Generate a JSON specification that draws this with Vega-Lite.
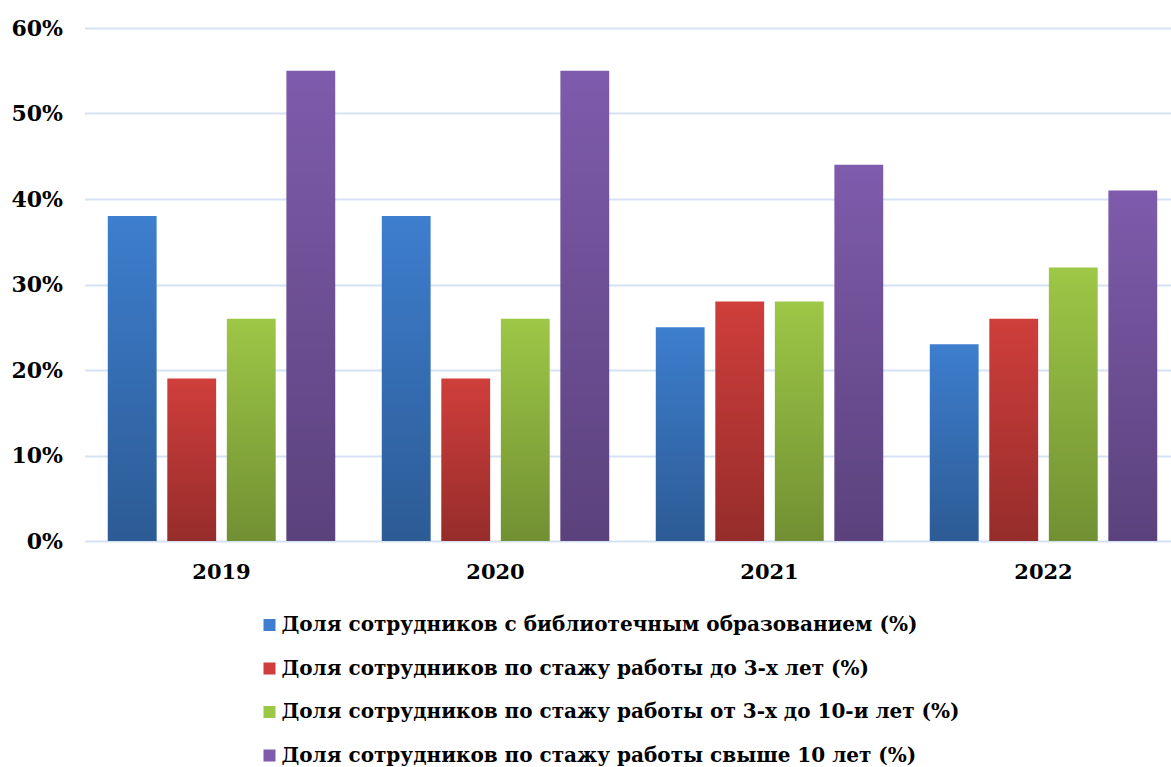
{
  "$schema": "https://vega.github.io/schema/vega-lite/v6.json",
  "autosize": {"type": "none"},
  "width": 1096,
  "height": 513,
  "padding": {"left": 84.5, "top": 28, "right": 0, "bottom": 226},
  "background": "white",
  "config": {
    "view": {"stroke": null},
    "font": "DejaVu Serif"
  },
  "data": {
    "values": [
      {"year": "2019", "series": "Доля сотрудников с библиотечным образованием (%)", "value": 38},
      {"year": "2019", "series": "Доля сотрудников по стажу работы до 3-х лет (%)", "value": 19},
      {"year": "2019", "series": "Доля сотрудников по стажу работы от 3-х до 10-и лет (%)", "value": 26},
      {"year": "2019", "series": "Доля сотрудников по стажу работы свыше 10 лет (%)", "value": 55},
      {"year": "2020", "series": "Доля сотрудников с библиотечным образованием (%)", "value": 38},
      {"year": "2020", "series": "Доля сотрудников по стажу работы до 3-х лет (%)", "value": 19},
      {"year": "2020", "series": "Доля сотрудников по стажу работы от 3-х до 10-и лет (%)", "value": 26},
      {"year": "2020", "series": "Доля сотрудников по стажу работы свыше 10 лет (%)", "value": 55},
      {"year": "2021", "series": "Доля сотрудников с библиотечным образованием (%)", "value": 25},
      {"year": "2021", "series": "Доля сотрудников по стажу работы до 3-х лет (%)", "value": 28},
      {"year": "2021", "series": "Доля сотрудников по стажу работы от 3-х до 10-и лет (%)", "value": 28},
      {"year": "2021", "series": "Доля сотрудников по стажу работы свыше 10 лет (%)", "value": 44},
      {"year": "2022", "series": "Доля сотрудников с библиотечным образованием (%)", "value": 23},
      {"year": "2022", "series": "Доля сотрудников по стажу работы до 3-х лет (%)", "value": 26},
      {"year": "2022", "series": "Доля сотрудников по стажу работы от 3-х до 10-и лет (%)", "value": 32},
      {"year": "2022", "series": "Доля сотрудников по стажу работы свыше 10 лет (%)", "value": 41}
    ]
  },
  "encoding": {
    "x": {
      "field": "year",
      "type": "nominal",
      "scale": {"paddingInner": 0.17, "paddingOuter": 0.085},
      "axis": {
        "title": null,
        "labelAngle": 0,
        "labelFont": "DejaVu Serif",
        "labelFontWeight": "bold",
        "labelFontSize": 21,
        "labelColor": "#000000",
        "labelPadding": 20,
        "ticks": false,
        "domain": false,
        "grid": false
      }
    },
    "xOffset": {
      "field": "series",
      "type": "nominal",
      "sort": [
        "Доля сотрудников с библиотечным образованием (%)",
        "Доля сотрудников по стажу работы до 3-х лет (%)",
        "Доля сотрудников по стажу работы от 3-х до 10-и лет (%)",
        "Доля сотрудников по стажу работы свыше 10 лет (%)"
      ],
      "scale": {"paddingInner": 0.18, "paddingOuter": 0}
    },
    "y": {
      "field": "value",
      "type": "quantitative",
      "scale": {"domain": [0, 60], "nice": false},
      "axis": {
        "title": null,
        "values": [0, 10, 20, 30, 40, 50, 60],
        "labelExpr": "datum.value + '%'",
        "labelFont": "DejaVu Serif",
        "labelFontWeight": "bold",
        "labelFontSize": 22,
        "labelColor": "#000000",
        "labelPadding": 22,
        "ticks": false,
        "domain": false,
        "grid": true,
        "gridColor": "#D6E2F1",
        "gridWidth": 2
      }
    }
  },
  "layer": [
    {
      "mark": {"type": "bar"},
      "encoding": {
        "color": {
          "field": "series",
          "type": "nominal",
          "sort": [
            "Доля сотрудников с библиотечным образованием (%)",
            "Доля сотрудников по стажу работы до 3-х лет (%)",
            "Доля сотрудников по стажу работы от 3-х до 10-и лет (%)",
            "Доля сотрудников по стажу работы свыше 10 лет (%)"
          ],
          "scale": {"range": ["#3D7ECE", "#CF3E3B", "#9DC746", "#7E5BAC"]},
          "legend": {
            "title": null,
            "orient": "none",
            "legendX": 175,
            "legendY": 587,
            "direction": "vertical",
            "symbolType": "square",
            "symbolSize": 144,
            "symbolStrokeWidth": 0,
            "symbolOpacity": 1,
            "labelFont": "DejaVu Serif",
            "labelFontWeight": "bold",
            "labelFontSize": 20,
            "labelColor": "#000000",
            "labelOffset": 2,
            "labelLimit": 900,
            "rowPadding": 23.5
          }
        }
      }
    },
    {
      "mark": {
        "type": "bar",
        "color": {
          "gradient": "linear",
          "x1": 0, "y1": 0, "x2": 0, "y2": 1,
          "stops": [
            {"offset": 0, "color": "rgba(0,0,0,0)"},
            {"offset": 1, "color": "rgba(0,0,0,0.28)"}
          ]
        }
      }
    }
  ]
}
